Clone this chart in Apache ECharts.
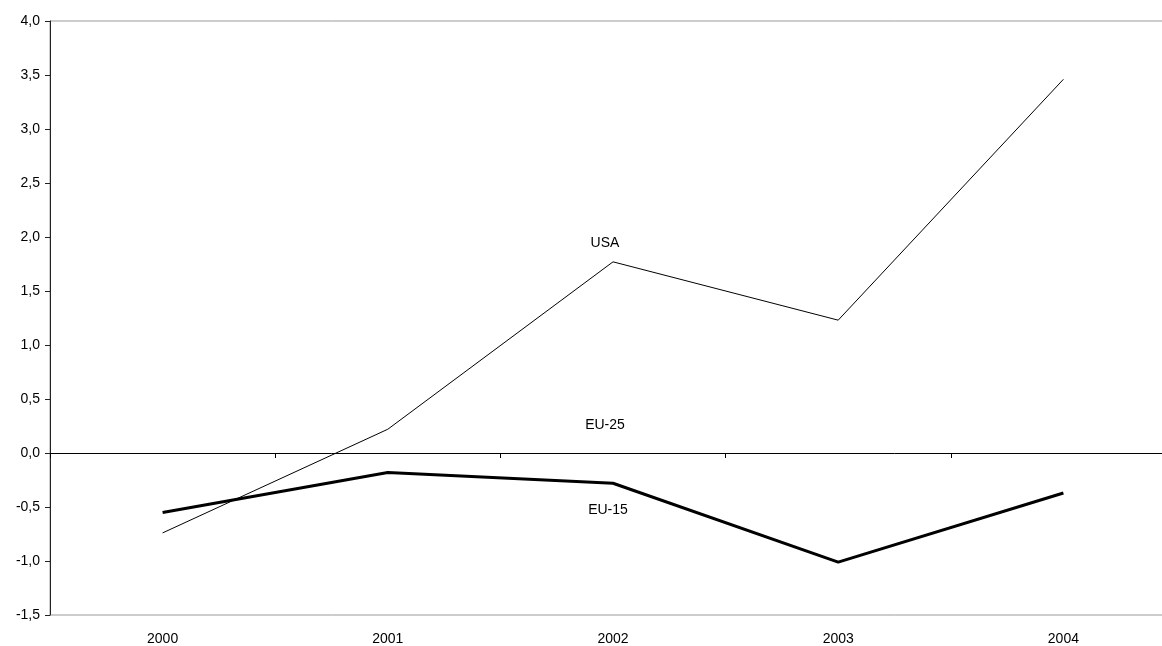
<!DOCTYPE html>
<html>
<head>
<meta charset="utf-8">
<script src="https://cdn.jsdelivr.net/npm/echarts@6/dist/echarts.min.js"></script>
<style>
html,body{margin:0;padding:0;background:#fff;overflow:hidden;width:1162px;height:646px;}
#chart{width:1176px;height:646px;}
</style>
</head>
<body>
<div id="chart"></div>
<script>
var years = ['2000', '2001', '2002', '2003', '2004'];
var usa = [-0.74, 0.22, 1.77, 1.23, 3.46];
var eu15 = [-0.55, -0.18, -0.28, -1.01, -0.37];
// annotation labels: [name, category, value]
var labelUSA = ['USA', '2002', 1.94];
var labelEU25 = ['EU-25', '2002', 0.26];
var labelEU15 = ['EU-15', '2002', -0.53];

var font = 'Liberation Sans, Arial, sans-serif';
var chart = echarts.init(document.getElementById('chart'));

function annot(l, dx) {
  return {
    name: l[0],
    coord: [l[1], l[2]],
    symbol: 'circle',
    symbolSize: 0,
    label: {
      show: true, position: 'inside', formatter: l[0],
      color: '#000', fontFamily: font, fontSize: 14, offset: [dx || 0, 0]
    }
  };
}

chart.setOption({
  animation: false,
  backgroundColor: '#fff',
  grid: {
    left: 50, right: 0, top: 21, bottom: 30,
    show: true, borderColor: '#999', borderWidth: 1, backgroundColor: 'transparent'
  },
  xAxis: [
    {
      type: 'category', data: years, position: 'bottom', boundaryGap: true,
      axisLine: { show: false, onZero: false },
      axisTick: { show: false },
      axisLabel: { color: '#000', fontFamily: font, fontSize: 14, margin: 17 },
      splitLine: { show: false }
    },
    {
      type: 'category', data: years, position: 'top', boundaryGap: true,
      axisLine: { show: true, onZero: true, lineStyle: { color: '#000', width: 1 } },
      axisTick: { show: true, inside: true, length: 5, lineStyle: { color: '#000' } },
      axisLabel: { show: false },
      splitLine: { show: false }
    }
  ],
  yAxis: {
    type: 'value', min: -1.5, max: 4, interval: 0.5,
    axisLine: { show: true, lineStyle: { color: '#222', width: 1 } },
    axisTick: { show: true, length: 5, lineStyle: { color: '#222' } },
    axisLabel: {
      color: '#000', fontFamily: font, fontSize: 14, margin: 10,
      formatter: function (v) { return v.toFixed(1).replace('.', ','); }
    },
    splitLine: { show: false }
  },
  series: [
    {
      name: 'USA', type: 'line', data: usa, xAxisIndex: 0,
      symbol: 'none', lineStyle: { color: '#000', width: 1 },
      markPoint: { silent: true, data: [annot(labelUSA, -8), annot(labelEU25, -8)] }
    },
    {
      name: 'EU-15', type: 'line', data: eu15, xAxisIndex: 0,
      symbol: 'none', lineStyle: { color: '#000', width: 3 },
      markPoint: { silent: true, data: [annot(labelEU15, -5)] }
    }
  ]
});
</script>
</body>
</html>
